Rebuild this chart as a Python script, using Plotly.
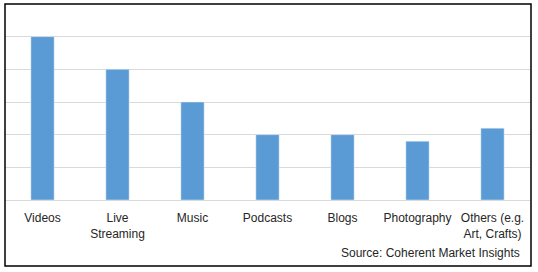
import plotly.graph_objects as go

categories = ["Videos", "Live<br>Streaming", "Music", "Podcasts", "Blogs", "Photography", "Others (e.g.<br>Art, Crafts)"]
values = [5, 4, 3, 2, 2, 1.8, 2.2]
source_text = "Source: Coherent Market Insights"

W, H = 538, 272
ml, mr, mt, mb = 5, 8, 4, 72
pw, ph = W - ml - mr, H - mt - mb

fig = go.Figure(go.Bar(x=categories, y=values, marker_color="#5B9BD5", width=0.31))

fig.update_layout(
    width=W, height=H,
    margin=dict(l=ml, r=mr, t=mt, b=mb),
    paper_bgcolor="white", plot_bgcolor="white",
    font=dict(family="Liberation Sans", size=12, color="#262626"),
    showlegend=False,
    xaxis=dict(showgrid=False, showline=False, ticks="", tickangle=0, ticklabelstandoff=9),
    yaxis=dict(range=[0, 6], dtick=1, showgrid=True, gridcolor="#D9D9D9", gridwidth=1,
               showticklabels=False, zeroline=True, zerolinecolor="#D9D9D9", zerolinewidth=1),
    shapes=[dict(type="rect", xref="paper", yref="paper",
                 x0=0, x1=(531 - ml) / pw, y0=(mt + ph - 266) / ph, y1=1.0,
                 line=dict(color="black", width=1.5), fillcolor="rgba(0,0,0,0)", layer="above")],
    annotations=[dict(text=source_text, xref="paper", yref="paper",
                      x=(522 - ml) / pw, y=(mt + ph - 253) / ph, xanchor="right", yanchor="middle",
                      showarrow=False, font=dict(size=12, color="#262626"))],
)

fig.write_html("out.html")
